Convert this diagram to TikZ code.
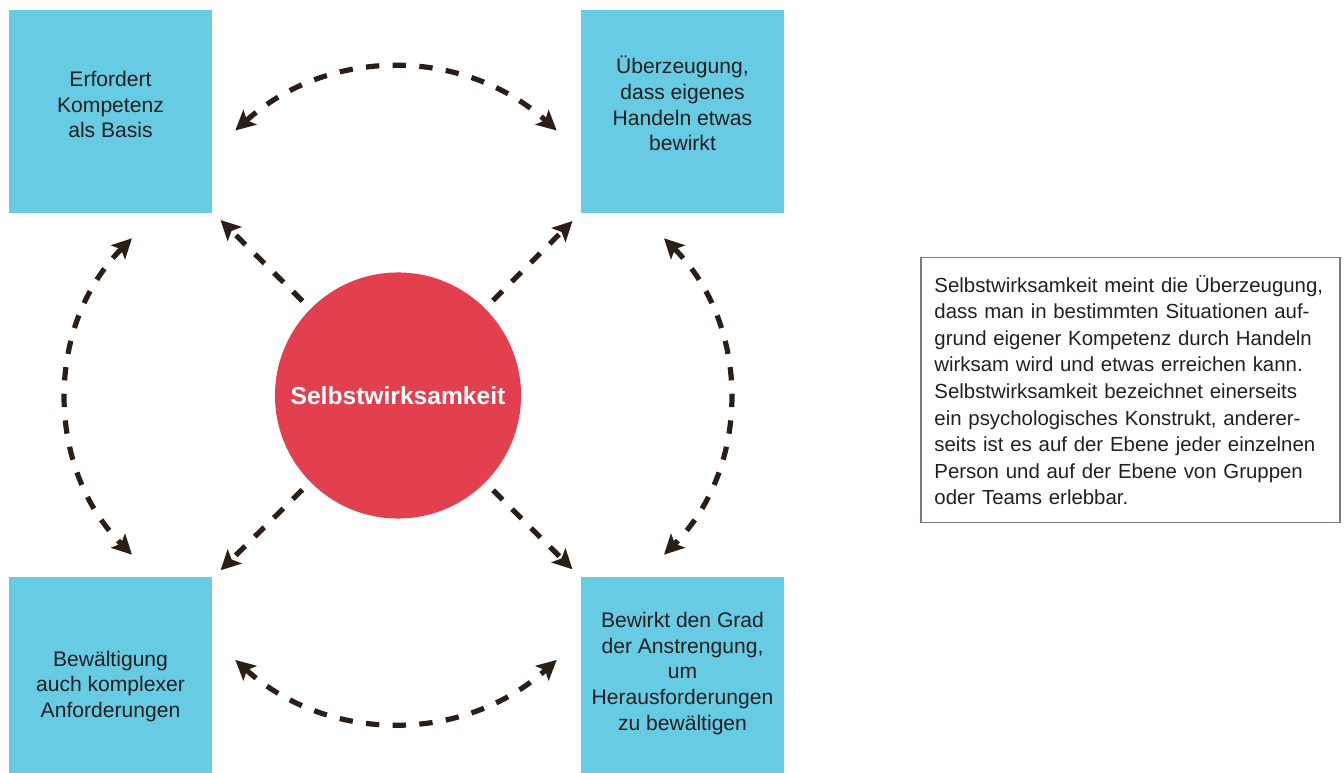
\documentclass[tikz,border=0pt]{standalone}
\usepackage{fontspec}
\setmainfont{Liberation Sans}
\usetikzlibrary{arrows.meta,positioning}
\definecolor{kastenblau}{RGB}{102,203,227}
\definecolor{kreisrot}{RGB}{226,64,78}
\definecolor{pfeilbraun}{RGB}{43,30,22}
\definecolor{schrift}{RGB}{35,31,32}
\definecolor{rahmen}{RGB}{128,122,115}
\tikzset{
  feld/.style={fill=kastenblau, minimum width=5.075cm, minimum height=5.075cm, inner sep=0pt},
  feldtext/.style={align=center, text=schrift, inner sep=0pt, font=\fontsize{15}{18.3}\selectfont},
  kreis/.style={circle, fill=kreisrot, minimum size=6.15cm, inner sep=0pt, text=white,
    font=\fontsize{17.5}{21}\selectfont\bfseries},
  info/.style={draw=rahmen, line width=1pt, minimum width=10.475cm, minimum height=6.625cm,
    inner xsep=0.3cm, text width=9.8cm, align=left, text=schrift, font=\fontsize{14.5}{18.9}\selectfont},
  pfeil/.style={draw=pfeilbraun, line width=3.7pt, dash pattern=on 9.5pt off 9.5pt,
    >={Stealth[length=14pt,width=14pt,inset=3pt]}}
}
\begin{document}
\begin{tikzpicture}[x=0.025cm, y=-0.025cm]
\useasboundingbox (0,0) rectangle (1344,773);
% nodes
\node[feld] (b1) at (110.5,111.5) {};
\node[feld] (b2) at (682.5,111.5) {};
\node[feld] (b3) at (110.5,678.5) {};
\node[feld] (b4) at (682.5,678.5) {};
\node[feldtext] (b1t) at ([shift={(0,-7)}]b1.center) {Erfordert\\Kompetenz\\als Basis};
\node[feldtext] (b2t) at ([shift={(0,-8)}]b2.center) {Überzeugung,\\dass eigenes\\Handeln etwas\\bewirkt};
\node[feldtext] (b3t) at ([shift={(0,8)}]b3.center) {Bewältigung\\auch komplexer\\Anforderungen};
\node[feldtext] (b4t) at ([shift={(0,-5)}]b4.center) {Bewirkt den Grad\\der Anstrengung,\\um\\Herausforderungen\\zu bewältigen};
\node[kreis] (c) at (398,395.5) {Selbstwirksamkeit};
\node[info] (t) at (1130.5,390) {Selbstwirksamkeit meint die Überzeugung,\\
dass man in bestimmten Situationen auf-\\
grund eigener Kompetenz durch Handeln\\
wirksam wird und etwas erreichen kann.\\
Selbstwirksamkeit bezeichnet einerseits\\
ein psychologisches Konstrukt, anderer-\\
seits ist es auf der Ebene jeder einzelnen\\
Person und auf der Ebene von Gruppen\\
oder Teams erlebbar.};

% from the circle to the boxes
\draw[pfeil, ->, shorten <=0.275cm, shorten >=0.29cm] (c) -- (b1);
\draw[pfeil, ->, shorten <=0.275cm, shorten >=0.29cm] (c) -- (b2);
\draw[pfeil, ->, shorten <=0.275cm, shorten >=0.29cm] (c) -- (b3);
\draw[pfeil, ->, shorten <=0.275cm, shorten >=0.29cm] (c) -- (b4);

% between the boxes
\draw[pfeil, <->] ([shift={(23,19)}]b1.east) to[bend left=42] ([shift={(-24,19)}]b2.west);
\draw[pfeil, <->] ([shift={(23,-18.5)}]b3.east) to[bend right=42] ([shift={(-24,-18.5)}]b4.west);
\draw[pfeil, <->] ([shift={(21.5,25)}]b1.south) to[bend right=45] ([shift={(21.5,-22)}]b3.north);
\draw[pfeil, <->] ([shift={(-18.5,25)}]b2.south) to[bend left=45] ([shift={(-18.5,-22)}]b4.north);
\end{tikzpicture}
\end{document}
